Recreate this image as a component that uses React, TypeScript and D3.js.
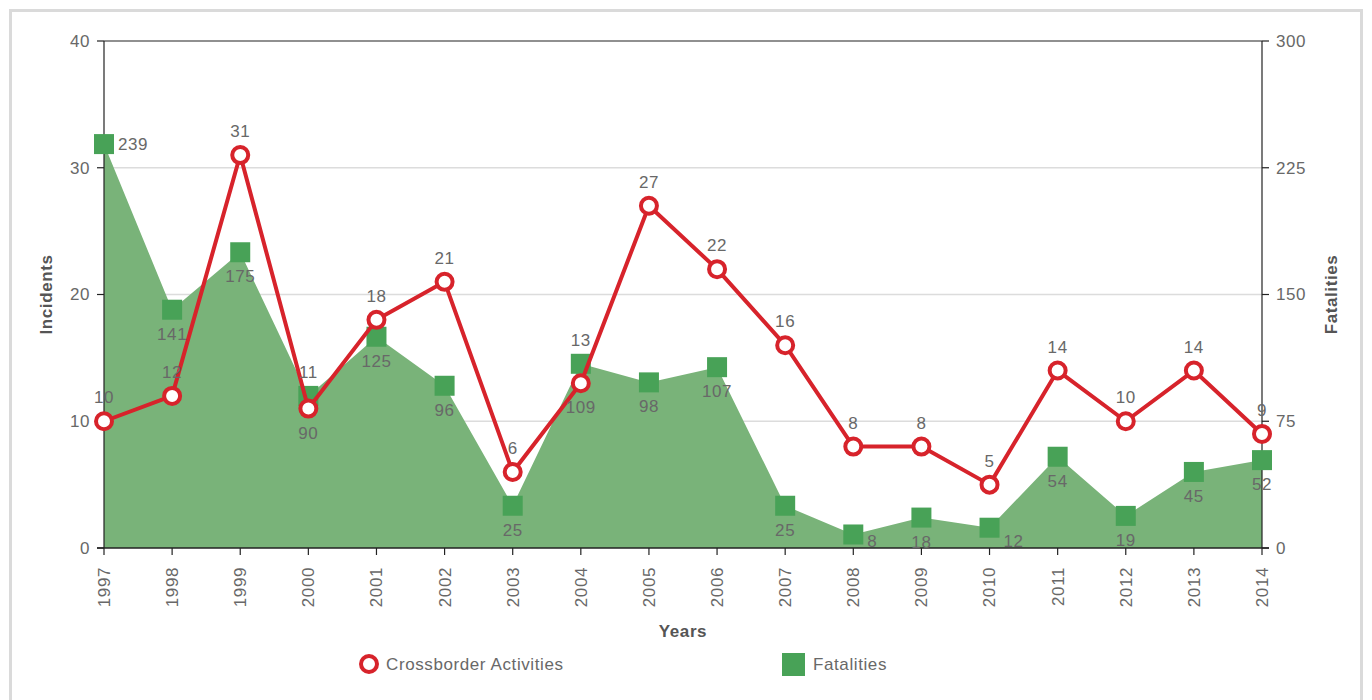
import React from 'react';
import * as d3 from 'd3';

const years = ['1997', '1998', '1999', '2000', '2001', '2002', '2003', '2004', '2005', '2006', '2007', '2008', '2009', '2010', '2011', '2012', '2013', '2014'];
const incidents = [10, 12, 31, 11, 18, 21, 6, 13, 27, 22, 16, 8, 8, 5, 14, 10, 14, 9];
const fatalities = [239, 141, 175, 90, 125, 96, 25, 109, 98, 107, 25, 8, 18, 12, 54, 19, 45, 52];
const leftTicks = [0, 10, 20, 30, 40];
const rightTicks = [0, 75, 150, 225, 300];

const W = 1372;
const H = 700;
const margin = { top: 41, right: 110, bottom: 152, left: 104 };

const RED = '#d7232b';
const GREEN = '#48a257';
const AREA = '#79b379';
const TXT = '#686868';
const FONT = '"Liberation Sans", Arial, sans-serif';
const FS = 17;
const LS = 0.6;

const App = () => {
  const x = d3.scalePoint<string>()
    .domain(years)
    .range([margin.left, W - margin.right]);
  const yL = d3.scaleLinear().domain([0, 40]).range([H - margin.bottom, margin.top]);
  const yR = d3.scaleLinear().domain([0, 300]).range([H - margin.bottom, margin.top]);

  const x0 = x(years[0]) as number;
  const x1 = x(years[years.length - 1]) as number;
  const yBase = yL(0);
  const yTop = yL(40);

  const area = d3.area<number>()
    .x((_, i) => x(years[i]) as number)
    .y0(yR(0))
    .y1(d => yR(d));

  const line = d3.line<number>()
    .x((_, i) => x(years[i]) as number)
    .y(d => yL(d));

  // marker half-extent (circle r + half stroke, half square)
  const half = 10;

  const labels: React.ReactNode[] = [];
  years.forEach((yr, i) => {
    const xx = x(yr) as number;
    const cy = yL(incidents[i]);
    const sy = yR(fatalities[i]);
    const overlap = Math.abs(cy - sy) < 2 * half;
    const top = overlap ? Math.min(cy, sy) - half : cy - half;
    labels.push(
      <text key={'il' + i} x={xx} y={top - 8} textAnchor="middle">{incidents[i]}</text>
    );
    const bottom = overlap ? Math.max(cy, sy) + half : sy + half;
    let fy = bottom + 20;
    if (i === 0) {
      labels.push(
        <text key={'fl' + i} x={xx + 14} y={sy} dy="0.35em" textAnchor="start">{fatalities[i]}</text>
      );
    } else if (fy > yBase) {
      fy = yBase - 1;
      labels.push(
        <text key={'fl' + i} x={xx + half + 4} y={fy} textAnchor="start">{fatalities[i]}</text>
      );
    } else {
      labels.push(
        <text key={'fl' + i} x={xx} y={fy} textAnchor="middle">{fatalities[i]}</text>
      );
    }
  });

  return (
    <div style={{ position: 'fixed', left: 0, top: 0 }}>
      <svg width={W} height={H} style={{ display: 'block', background: '#fff' }} fontFamily={FONT}>
        {/* frame */}
        <rect x={10.5} y={10.5} width={1351} height={720} fill="none" stroke="#dadada" strokeWidth={3} />

        {/* gridlines */}
        {leftTicks.slice(1, -1).map(t => (
          <line key={'g' + t} x1={x0} x2={x1} y1={yL(t)} y2={yL(t)} stroke="#dcdcdc" strokeWidth={1.5} />
        ))}

        {/* fatalities area */}
        <path d={area(fatalities) || ''} fill={AREA} />

        {/* plot frame */}
        <line x1={x0} x2={x1} y1={yTop} y2={yTop} stroke="#222" strokeWidth={1.2} />
        <line x1={x0} x2={x0} y1={yTop} y2={yBase} stroke="#222" strokeWidth={1.2} />
        <line x1={x1} x2={x1} y1={yTop} y2={yBase} stroke="#222" strokeWidth={1.2} />
        <line x1={x0 - 7} x2={x1 + 7} y1={yBase} y2={yBase} stroke="#222" strokeWidth={1.5} />

        <g fontSize={FS} fill={TXT} letterSpacing={LS}>
          {/* left axis */}
          {leftTicks.map(t => (
            <g key={'l' + t}>
              <line x1={x0 - 7} x2={x0} y1={yL(t)} y2={yL(t)} stroke="#222" strokeWidth={1.2} />
              <text x={x0 - 14} y={yL(t)} dy="0.35em" textAnchor="end">{t}</text>
            </g>
          ))}

          {/* right axis */}
          {rightTicks.map(t => (
            <g key={'r' + t}>
              <line x1={x1} x2={x1 + 7} y1={yR(t)} y2={yR(t)} stroke="#222" strokeWidth={1.2} />
              <text x={x1 + 14} y={yR(t)} dy="0.35em" textAnchor="start">{t}</text>
            </g>
          ))}

          {/* x axis */}
          {years.map(yr => {
            const xx = x(yr) as number;
            return (
              <g key={'x' + yr}>
                <line x1={xx} x2={xx} y1={yBase} y2={yBase + 7} stroke="#222" strokeWidth={1.2} />
                <text transform={`translate(${xx},${yBase + 19}) rotate(-90)`} dy="0.35em" textAnchor="end">{yr}</text>
              </g>
            );
          })}
        </g>

        {/* axis titles */}
        <g fontSize={FS} fontWeight="bold" fill="#555" letterSpacing={LS}>
          <text x={(x0 + x1) / 2} y={637} textAnchor="middle">Years</text>
          <text transform={`translate(52,${(yTop + yBase) / 2}) rotate(-90)`} textAnchor="middle">Incidents</text>
          <text transform={`translate(1337,${(yTop + yBase) / 2}) rotate(-90)`} textAnchor="middle">Fatalities</text>
        </g>

        {/* fatalities markers */}
        {fatalities.map((v, i) => (
          <rect key={'s' + i} x={(x(years[i]) as number) - 10} y={yR(v) - 10} width={20} height={20} fill={GREEN} />
        ))}

        {/* incidents line */}
        <path d={line(incidents) || ''} fill="none" stroke={RED} strokeWidth={4} strokeLinejoin="round" />
        {incidents.map((v, i) => (
          <circle key={'c' + i} cx={x(years[i]) as number} cy={yL(v)} r={8} fill="#fff" stroke={RED} strokeWidth={4} />
        ))}

        {/* data labels */}
        <g fontSize={FS} fill={TXT} letterSpacing={LS}>{labels}</g>

        {/* legend */}
        <circle cx={369} cy={664} r={8} fill="#fff" stroke={RED} strokeWidth={4} />
        <rect x={782} y={653} width={23} height={23} fill={GREEN} />
        <g fontSize={FS} fill={TXT} letterSpacing={LS}>
          <text x={386} y={664} dy="0.35em">Crossborder Activities</text>
          <text x={813} y={664} dy="0.35em">Fatalities</text>
        </g>
      </svg>
    </div>
  );
};

export default App;
